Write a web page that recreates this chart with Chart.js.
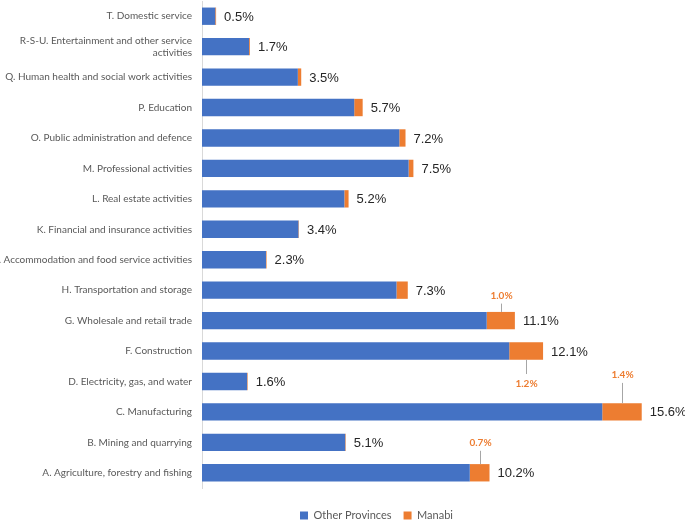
<!DOCTYPE html>
<html>
<head>
<meta charset="utf-8">
<script src="https://cdn.jsdelivr.net/npm/chart.js@4.4.0/dist/chart.umd.min.js"></script>
<style>
  html, body { margin: 0; padding: 0; background: #fff; }
  #wrap { width: 685px; height: 521px; position: relative; }
</style>
</head>
<body>
<div id="wrap"><canvas id="chart"></canvas></div>
<script>
// data, top to bottom
const categories = [
  'T. Domestic service',
  ['R-S-U. Entertainment and other service', 'activities'],
  'Q. Human health and social work activities',
  'P. Education',
  'O. Public administration and defence',
  'M. Professional activities',
  'L. Real estate activities',
  'K. Financial and insurance activities',
  'I. Accommodation and food service activities',
  'H. Transportation and storage',
  'G. Wholesale and retail trade',
  'F. Construction',
  'D. Electricity, gas, and water',
  'C. Manufacturing',
  'B. Mining and quarrying',
  'A. Agriculture, forestry and fishing'
];
const otherProvinces = [0.47, 1.67, 3.40, 5.40, 7.00, 7.33, 5.05, 3.42, 2.27, 6.90, 10.10, 10.90, 1.60, 14.20, 5.08, 9.50];
const manabi         = [0.03, 0.03, 0.12, 0.30, 0.22, 0.17, 0.15, 0.02, 0.02, 0.40, 1.00, 1.20, 0.02, 1.40, 0.02, 0.70];
const seriesNames = ['Other Provinces', 'Manabi'];

// Manabi labels that are shown in the original (index -> vertical offset of the callout)
const manabiCallouts = { 10: -25, 11: 33, 13: -37, 15: -30 };
const legendShift = { x: 50, y: 10 };

const qs = s => document.querySelector(s);

// total labels + orange callouts
const barLabels = {
  id: 'barLabels',
  afterDatasetsDraw(chart) {
    const ctx = chart.ctx;
    const tops = chart.getDatasetMeta(1).data;
    ctx.save();
    ctx.font = '13px "Liberation Sans", Arial, sans-serif';
    ctx.fillStyle = '#262626';
    ctx.textBaseline = 'middle';
    ctx.textAlign = 'left';
    tops.forEach((bar, i) => {
      const total = otherProvinces[i] + manabi[i];
      ctx.fillText(total.toFixed(1) + '%', bar.x + 8, bar.y + 1);
    });

    ctx.font = 'bold 10px Lato, sans-serif';
    ctx.textAlign = 'center';
    ctx.strokeStyle = '#A6A6A6';
    ctx.lineWidth = 1;
    Object.keys(manabiCallouts).forEach(k => {
      const i = Number(k);
      const bar = tops[i];
      const dy = manabiCallouts[k];
      const cx = Math.round((bar.base + bar.x) / 2) + 0.5;
      const ly = bar.y + dy;
      const edge = dy < 0 ? bar.y - bar.height / 2 : bar.y + bar.height / 2;
      const end = dy < 0 ? ly + 8 : ly - 10;
      ctx.beginPath();
      ctx.moveTo(cx, edge);
      ctx.lineTo(cx, end);
      ctx.stroke();
      ctx.fillStyle = '#ED7D31';
      ctx.fillText(manabi[i].toFixed(1) + '%', cx, ly);
    });
    ctx.restore();
  }
};

// nudge the legend to sit under the plot like the original
const legendNudge = {
  id: 'legendNudge',
  afterLayout(chart) {
    const lg = chart.legend;
    if (!lg) return;
    lg.left += legendShift.x; lg.right += legendShift.x;
    lg.top += legendShift.y; lg.bottom += legendShift.y;
  }
};

new Chart(qs('#chart').getContext('2d'), {
  type: 'bar',
  data: {
    labels: categories,
    datasets: [
      { label: seriesNames[0], data: otherProvinces, backgroundColor: '#4472C4' },
      { label: seriesNames[1], data: manabi, backgroundColor: '#ED7D31' }
    ]
  },
  options: {
    indexAxis: 'y',
    responsive: true,
    maintainAspectRatio: false,
    animation: false,
    layout: { padding: { top: 1, right: 32, bottom: 0, left: 0 } },
    datasets: { bar: { categoryPercentage: 1, barPercentage: 0.57, borderWidth: 0 } },
    scales: {
      x: { stacked: true, min: 0, max: 16, display: false },
      y: {
        stacked: true,
        grid: { display: false, drawTicks: false },
        border: { display: true, color: '#D9D9D9', width: 1 },
        ticks: { padding: 10, color: '#595959', font: { family: 'Lato', size: 10 } },
        afterFit: s => { s.width = 202; s.paddingTop = 0; s.paddingBottom = 0; }
      }
    },
    plugins: {
      legend: {
        position: 'bottom',
        labels: {
          boxWidth: 8, boxHeight: 8, padding: 12,
          color: '#595959', font: { family: 'Lato', size: 11 }
        }
      },
      tooltip: { enabled: false }
    }
  },
  plugins: [barLabels, legendNudge]
});
</script>
</body>
</html>
